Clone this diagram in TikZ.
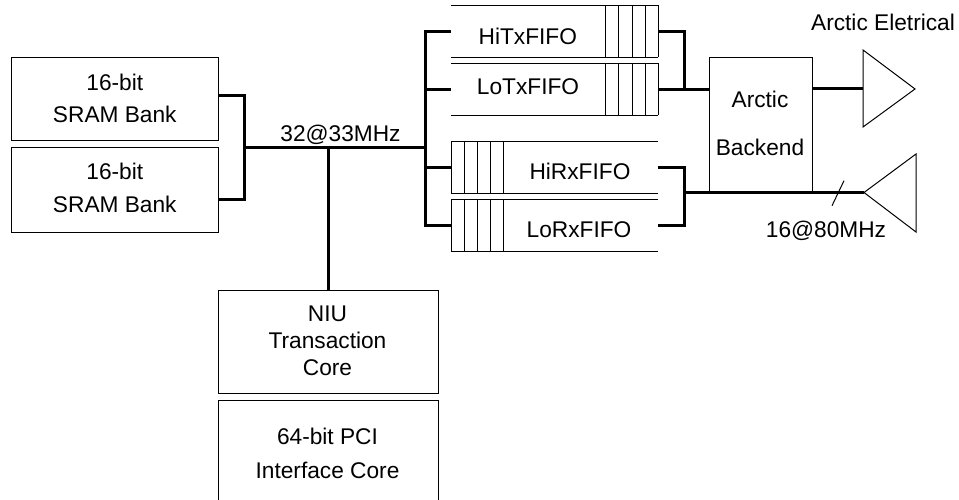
\documentclass[tikz,border=0pt]{standalone}
\usepackage{fontspec}
\setmainfont{Liberation Sans}
\begin{document}
\begin{tikzpicture}[x=1pt,y=-1pt,
  box/.style={draw=black,line width=1pt,inner sep=0pt,outer sep=0pt},
  fifo/.style={inner sep=0pt,outer sep=0pt,minimum width=207pt,minimum height=52pt},
  thin line/.style={draw=black,line width=1pt},
  bus/.style={draw=black,line width=3pt,line join=miter},
  txt/.style={inner sep=0pt,outer sep=0pt,anchor=north,align=center,font=\fontsize{22.7}{#1}\selectfont},
  txt/.default=27]
\useasboundingbox (0,0) rectangle (959,500);
% boxes
\node[box,minimum width=207pt,minimum height=83.5pt] (sramA) at (114.5,99.25) {};
\node[box,minimum width=207pt,minimum height=84pt] (sramB) at (114.5,190) {};
\node[box,minimum width=220pt,minimum height=103pt] (niu) at (328,341.5) {};
\node[box,minimum width=103.5pt,minimum height=135pt] (backend) at (761,125) {};
% PCI core, open at the picture edge
\node[inner sep=0pt,outer sep=0pt,minimum width=220pt,minimum height=100pt] (pci) at (328,450) {};
\draw[thin line] (pci.south west) -- (pci.north west) -- (pci.north east) -- (pci.south east);
% FIFOs
\node[fifo] (hitx) at (554.5,31.5) {};
\node[fifo] (lotx) at (554.5,89.5) {};
\node[fifo] (hirx) at (554.5,167.25) {};
\node[fifo] (lorx) at (554.5,225.25) {};
\foreach \f in {hitx,lotx}{
  \draw[thin line] (\f.north west) -- (\f.north east) (\f.south west) -- (\f.south east);
  \foreach \d in {0,13,26,39.5,52.5}
    \draw[thin line] ([xshift=-\d pt]\f.north east) -- ([xshift=-\d pt]\f.south east);
}
\foreach \f in {hirx,lorx}{
  \draw[thin line] (\f.north west) -- (\f.north east) (\f.south west) -- (\f.south east);
  \foreach \d in {0,13,26,39.5,52}
    \draw[thin line] ([xshift=\d pt]\f.north west) -- ([xshift=\d pt]\f.south west);
}
% triangles
\coordinate (outTip) at (863,89);
\coordinate (inTip) at (864,192.5);
\draw[thin line,line join=miter] (863,50) -- (915,89) -- (863,127) -- cycle;
\draw[thin line,line join=miter] (inTip) -- (916,154) -- (916,232) -- cycle;
% junctions
\coordinate (sramJ) at (244,148);
\coordinate (fifoJ) at (425,148);
\coordinate (coreJ) at (328,148);
\coordinate (txJ) at (684,89.5);
\coordinate (rxJ) at (684,192.5);
% connectors
\draw[bus] (sramA.east |- 0,96) -| (sramJ) (sramJ) |- (sramB.east |- 0,200);
\draw[bus] (sramJ) -- (fifoJ);
\draw[bus] (coreJ) -- (niu.north);
\draw[bus] (hitx.west) -| (fifoJ);
\draw[bus] (lotx.west) -- (lotx.west -| fifoJ);
\draw[bus] (hirx.west) -- (hirx.west -| fifoJ);
\draw[bus] (lorx.west) -| (fifoJ);
\draw[bus] (hitx.east) -| (txJ);
\draw[bus] (lotx.east) -- (backend.west |- txJ);
\draw[bus] (backend.east |- outTip) -- (outTip);
\draw[bus] (hirx.east) -| (rxJ) (rxJ) |- (lorx.east);
\draw[bus] (rxJ) -- (inTip);
\coordinate (slashA) at (832,205.7);
\coordinate (slashB) at (844,180.7);
\draw[thin line] (slashA) -- (slashB);
% labels
\node[txt=32.5] (sramAt) at (114.8,74) {16-bit\\SRAM Bank};
\node[txt=33] (sramBt) at (114.8,163) {16-bit\\SRAM Bank};
\node[txt=27] (niut) at (327.5,306) {NIU\\Transaction\\Core};
\node[txt=34] (pcit) at (327.5,428) {64-bit PCI\\Interface Core};
\node[txt=47.7] (backt) at (760,91) {Arctic\\Backend};
\node[txt] (hitxt) at (527.8,28) {HiTxFIFO};
\node[txt] (lotxt) at (528,79) {LoTxFIFO};
\node[txt] (hirxt) at (580,163) {HiRxFIFO};
\node[txt] (lorxt) at (579,222) {LoRxFIFO};
\node[txt] (speedA) at (340.5,125) {32@33MHz};
\node[txt] (speedB) at (826,221) {16@80MHz};
\node[txt] (elec) at (883,14) {Arctic Eletrical};
\end{tikzpicture}
\end{document}
